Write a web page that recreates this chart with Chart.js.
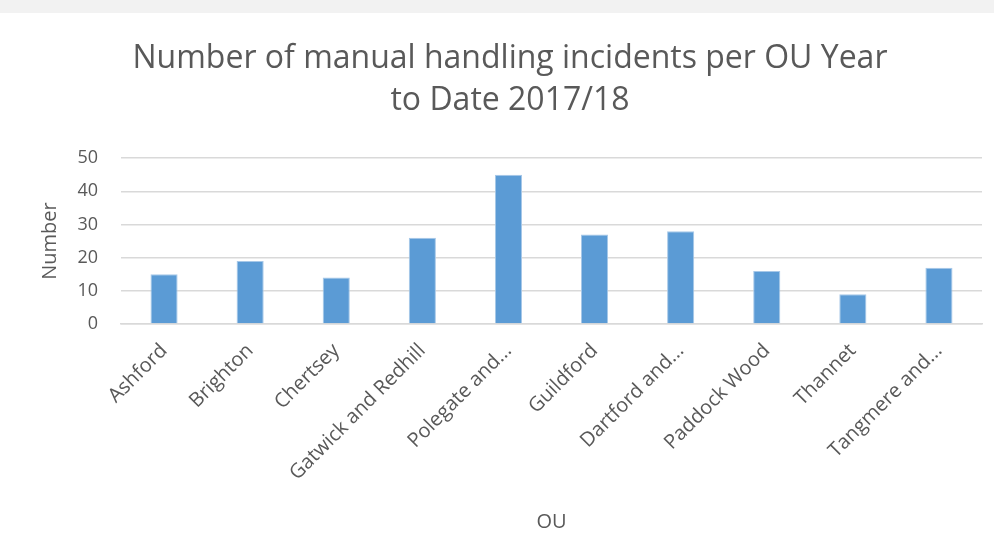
<!DOCTYPE html>
<html>
<head>
<meta charset="utf-8">
<script src="https://cdn.jsdelivr.net/npm/chart.js@4.4.1/dist/chart.umd.min.js"></script>
<style>
  html, body { margin: 0; padding: 0; background: #ffffff; }
  #wrap { position: relative; width: 994px; height: 557px; }
</style>
</head>
<body>
<div id="wrap"><canvas id="chart" width="994" height="557"></canvas></div>
<script>
// Operating units and their year-to-date manual handling incidents
const categories = [
  'Ashford', 'Brighton', 'Chertsey', 'Gatwick and Redhill', 'Polegate and...',
  'Guildford', 'Dartford and...', 'Paddock Wood', 'Thannet', 'Tangmere and...'
];
const incidents = [15, 19, 14, 26, 45, 27, 28, 16, 9, 17];
const titleLines = ['Number of manual handling incidents per OU Year', 'to Date 2017/18'];
const yTicks = [0, 10, 20, 30, 40, 50];

const textGrey = '#595959';
const gridGrey = '#d9d9d9';

// White page with a thin light-grey strip along the top edge
const backdrop = {
  id: 'backdrop',
  beforeDraw(chart) {
    const { ctx, width, height } = chart;
    ctx.save();
    ctx.fillStyle = '#ffffff';
    ctx.fillRect(0, 0, width, height);
    ctx.fillStyle = '#f2f2f2';
    ctx.fillRect(0, 0, width, 13);
    ctx.restore();
  }
};

new Chart(document.getElementById('chart'), {
  type: 'bar',
  data: {
    labels: categories,
    datasets: [{
      label: 'Number',
      data: incidents,
      backgroundColor: '#5b9bd5',
      borderColor: '#a7c8e8',
      borderWidth: 1,
      categoryPercentage: 1,
      barPercentage: 0.315
    }]
  },
  plugins: [backdrop],
  options: {
    responsive: false,
    animation: false,
    events: [],
    layout: { padding: { left: 38, right: 12, top: 0, bottom: 23 } },
    plugins: {
      legend: { display: false },
      tooltip: { enabled: false },
      title: {
        display: true,
        text: titleLines,
        color: textGrey,
        font: { family: 'Open Sans', size: 32, weight: '400', lineHeight: 1.3 },
        padding: { top: 38, bottom: 37 }
      }
    },
    scales: {
      x: {
        grid: { display: false, drawTicks: false },
        border: { display: true, color: gridGrey, width: 1.5 },
        ticks: {
          color: textGrey,
          font: { family: 'Open Sans', size: 20 },
          minRotation: 45,
          maxRotation: 45,
          autoSkip: false,
          padding: 15
        },
        title: {
          display: true,
          text: 'OU',
          color: textGrey,
          font: { family: 'Open Sans', size: 20 },
          padding: 0
        },
        afterFit(scale) { scale.height = 210; }
      },
      y: {
        min: 0,
        max: 50,
        afterBuildTicks(scale) { scale.ticks = yTicks.map(v => ({ value: v })); },
        grid: { color: gridGrey, lineWidth: 1.5, drawTicks: false },
        border: { display: false },
        ticks: {
          color: textGrey,
          font: { family: 'Open Sans', size: 18 },
          padding: 23
        },
        title: {
          display: true,
          text: 'Number',
          color: textGrey,
          font: { family: 'Open Sans', size: 20 },
          padding: 0
        },
        afterFit(scale) { scale.width = 83; }
      }
    }
  }
});
</script>
</body>
</html>
